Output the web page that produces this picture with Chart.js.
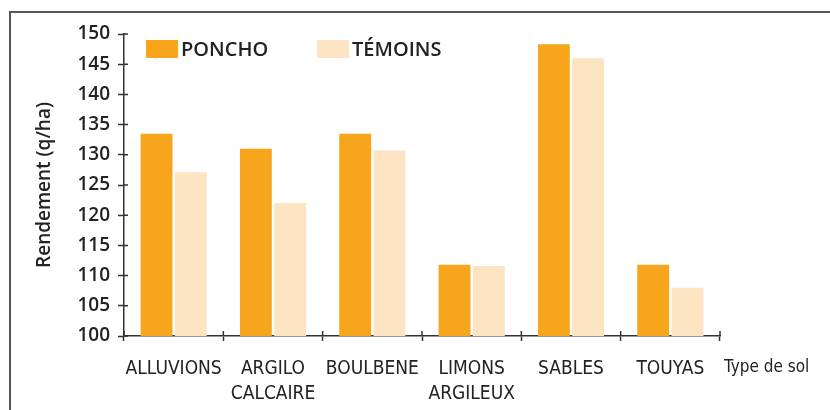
<!DOCTYPE html>
<html>
<head>
<meta charset="utf-8">
<script src="https://cdn.jsdelivr.net/npm/chart.js@4"></script>
<style>
  html, body { margin: 0; padding: 0; background: #fff; }
  canvas { display: block; }
</style>
</head>
<body>
<canvas id="rendementChart" width="830" height="410"></canvas>
<script>
// Données
const soilTypes = [["ALLUVIONS"], ["ARGILO", "CALCAIRE"], ["BOULBENE"], ["LIMONS", "ARGILEUX"], ["SABLES"], ["TOUYAS"]];
const ponchoValues = [133.5, 131.0, 133.5, 111.8, 148.3, 111.8];
const temoinsValues = [127.1, 122.0, 130.7, 111.6, 146.0, 108.0];
const seriesLabels = ["PONCHO", "TÉMOINS"];
const yMin = 100;
const yMax = 150;
const yStep = 5;
const xAxisTitle = "Type de sol";
const yAxisTitle = "Rendement (q/ha)";

const orange = "rgb(247, 166, 28)";
const beige = "rgb(253, 228, 194)";
const axisColor = "#333";
const condensed = "'Liberation Sans Narrow', 'DejaVu Sans Condensed', sans-serif";

// Cadre (haut + gauche)
const framePlugin = {
  id: "frame",
  beforeDraw(chart) {
    const ctx = chart.ctx;
    ctx.save();
    ctx.strokeStyle = "#555";
    ctx.lineWidth = 2;
    ctx.beginPath();
    ctx.moveTo(10, 411);
    ctx.lineTo(10, 12);
    ctx.lineTo(830, 12);
    ctx.stroke();
    ctx.restore();
  },
};

// Petits traits de graduation qui traversent les axes + titre "Type de sol"
const axisExtrasPlugin = {
  id: "axisExtras",
  afterDraw(chart) {
    const ctx = chart.ctx;
    const x = chart.scales.x;
    const y = chart.scales.y;
    ctx.save();
    ctx.strokeStyle = axisColor;
    ctx.lineWidth = 1.5;
    ctx.beginPath();
    y.ticks.forEach((t, i) => {
      const py = y.getPixelForTick(i);
      ctx.moveTo(y.right, py);
      ctx.lineTo(y.right + 4, py);
    });
    const catWidth = (x.right - x.left) / soilTypes.length;
    for (let i = 0; i <= soilTypes.length; i++) {
      const px = x.left + i * catWidth;
      ctx.moveTo(px, x.top);
      ctx.lineTo(px, x.top - 5);
    }
    ctx.stroke();

    ctx.fillStyle = "#222";
    ctx.font = "17px " + condensed;
    ctx.textBaseline = "middle";
    ctx.textAlign = "left";
    ctx.fillText(xAxisTitle, x.right + 4, 368);
    ctx.restore();
  },
};

// Légende dessinée dans la zone du graphique
const insideLegendPlugin = {
  id: "insideLegend",
  afterDraw(chart) {
    const ctx = chart.ctx;
    const positions = [146, 317];
    ctx.save();
    ctx.font = "600 20px 'Open Sans', sans-serif";
    ctx.textBaseline = "middle";
    ctx.textAlign = "left";
    chart.data.datasets.forEach((ds, i) => {
      const lx = positions[i];
      ctx.fillStyle = ds.backgroundColor;
      ctx.fillRect(lx, 40, 32, 18);
      ctx.fillStyle = "#222";
      ctx.fillText(ds.label, lx + 35, 50);
    });
    ctx.restore();
  },
};

new Chart(document.getElementById("rendementChart"), {
  type: "bar",
  data: {
    labels: soilTypes,
    datasets: [
      {
        label: seriesLabels[0],
        data: ponchoValues,
        backgroundColor: orange,
        categoryPercentage: 0.69,
        barPercentage: 0.93,
      },
      {
        label: seriesLabels[1],
        data: temoinsValues,
        backgroundColor: beige,
        categoryPercentage: 0.69,
        barPercentage: 0.93,
      },
    ],
  },
  options: {
    responsive: false,
    animation: false,
    devicePixelRatio: 1,
    layout: { padding: { left: 0, right: 110, top: 34, bottom: 0 } },
    plugins: {
      legend: { display: false },
      tooltip: { enabled: false },
    },
    scales: {
      x: {
        afterFit(scale) {
          scale.height = 74;
        },
        border: { color: axisColor, width: 1.5 },
        grid: {
          drawOnChartArea: false,
          drawTicks: true,
          tickLength: 5,
          tickWidth: 1.5,
          tickColor: axisColor,
        },
        ticks: {
          color: "#222",
          padding: 15,
          maxRotation: 0,
          autoSkip: false,
          font: { family: condensed, size: 19, lineHeight: 1.35 },
        },
      },
      y: {
        min: yMin,
        max: yMax,
        afterFit(scale) {
          scale.width = 124;
        },
        border: { color: axisColor, width: 1.5 },
        grid: {
          drawOnChartArea: false,
          drawTicks: true,
          tickLength: 6,
          tickWidth: 1.5,
          tickColor: axisColor,
        },
        ticks: {
          stepSize: yStep,
          color: "#222",
          padding: 8,
          font: { family: "'Open Sans', sans-serif", size: 19, weight: "600" },
        },
        title: {
          display: true,
          text: yAxisTitle,
          color: "#222",
          padding: { top: 33, bottom: 0 },
          font: { family: "'Open Sans', sans-serif", size: 19, weight: "600" },
        },
      },
    },
  },
  plugins: [framePlugin, axisExtrasPlugin, insideLegendPlugin],
});
</script>
</body>
</html>
